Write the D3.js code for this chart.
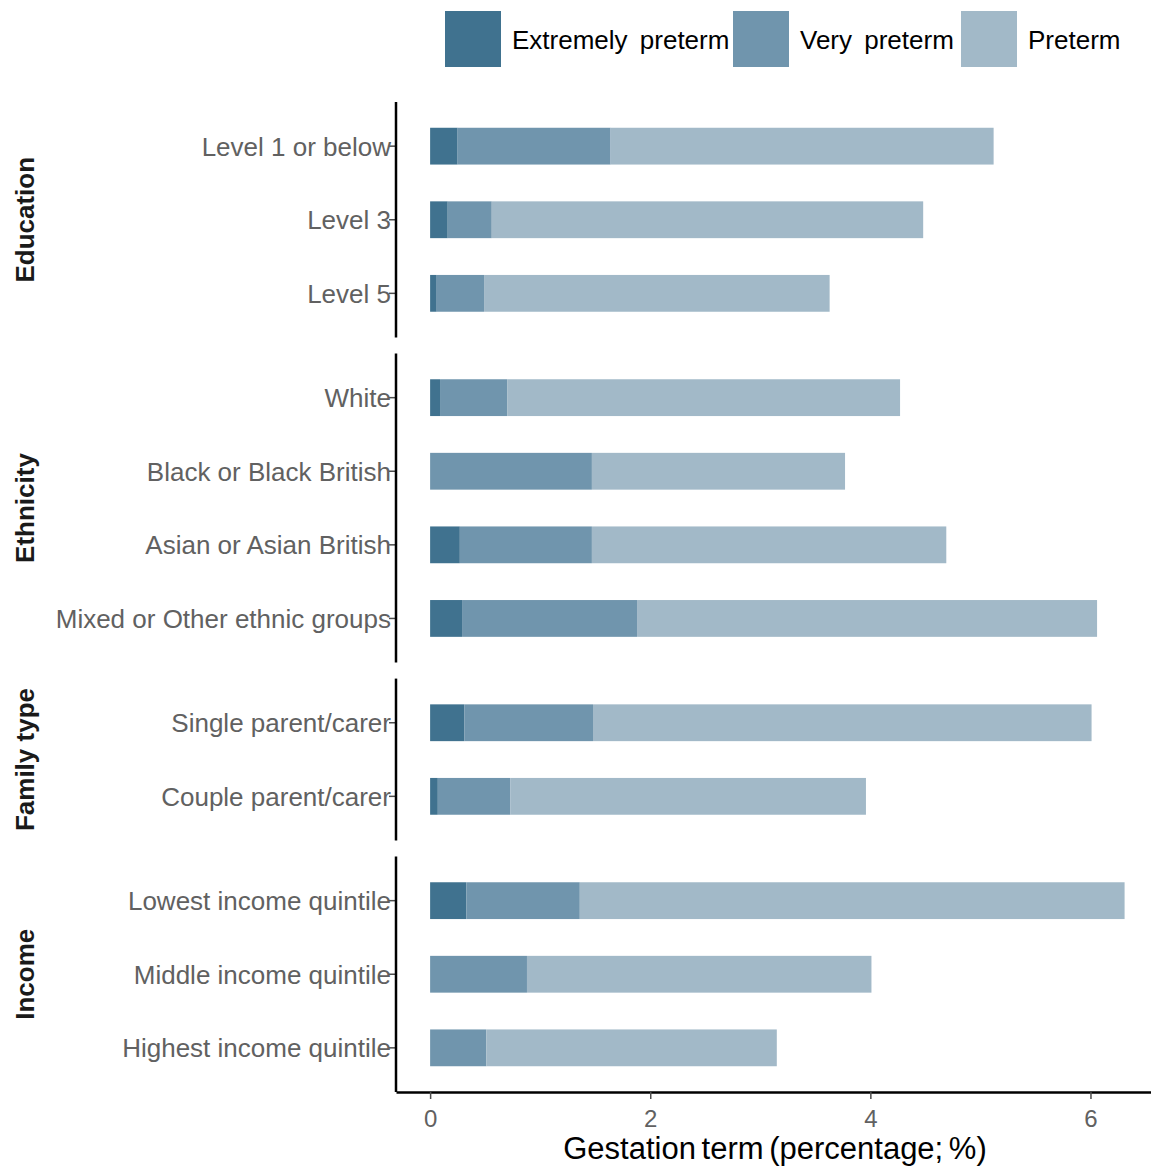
<!DOCTYPE html>
<html><head><meta charset="utf-8">
<script src="https://cdn.jsdelivr.net/npm/d3@7"></script>
<style>body{margin:0;background:#fff}svg text{font-family:"Liberation Sans",Arial,sans-serif}</style>
</head><body><svg id="c" width="1151" height="1166"></svg>
<script>
const groups = ["Education","Ethnicity","Family type","Income"];
const categories = [
  ["Level 1 or below","Level 3","Level 5"],
  ["White","Black or Black British","Asian or Asian British","Mixed or Other ethnic groups"],
  ["Single parent/carer","Couple parent/carer"],
  ["Lowest income quintile","Middle income quintile","Highest income quintile"]
];
const seriesNames = ["Extremely preterm","Very preterm","Preterm"];
const extremely = [[0.25,0.16,0.06],[0.09,0,0.27,0.29],[0.31,0.07],[0.33,0,0]];
const very      = [[1.39,0.40,0.43],[0.61,1.47,1.20,1.59],[1.17,0.66],[1.03,0.88,0.51]];
const preterm   = [[3.48,3.92,3.14],[3.57,2.30,3.22,4.18],[4.53,3.23],[4.95,3.13,2.64]];
const xTicks = [0,2,4,6];
const colors = ["#40728f","#7095ad","#a2b9c8"];
const xTitle = "Gestation term (percentage; %)";

const svg = d3.select("#c");
const pLeft = 396, pRight = 1151, pTop = 102, pBottom = 1092, gap = 16;
const x = d3.scaleLinear().domain([-0.31, 6.55]).range([pLeft, pRight]);

const units = categories.map(c => c.length + 0.2);
const totalUnits = d3.sum(units);
const unitPx = (pBottom - pTop - gap*(groups.length-1)) / totalUnits;

let y0 = pTop;
groups.forEach((g, gi) => {
  const h = units[gi]*unitPx;
  const yb = d3.scaleBand().domain(categories[gi]).range([y0 + 0.1*unitPx, y0 + h - 0.1*unitPx]).paddingInner(0.5).paddingOuter(0.25);
  const panel = svg.append("g");
  categories[gi].forEach((cat, ci) => {
    const vals = [extremely[gi][ci], very[gi][ci], preterm[gi][ci]];
    let cum = 0;
    vals.forEach((v, si) => {
      if (v > 0) {
        panel.append("rect").attr("x", x(cum)).attr("width", x(cum+v)-x(cum))
          .attr("y", yb(cat)).attr("height", yb.bandwidth()).attr("fill", colors[si]);
      }
      cum += v;
    });
  });
  const ax = svg.append("g").attr("transform", `translate(${pLeft},0)`)
    .call(d3.axisLeft(yb).tickSize(7).tickPadding(2).tickSizeOuter(0));
  ax.select(".domain").remove();
  ax.selectAll(".tick line").attr("stroke","#4d4d4d").attr("stroke-width",1.5);
  ax.selectAll(".tick text").attr("fill","#616161").attr("font-size",26).attr("dy","0.36em").attr("x",-5);
  svg.append("line").attr("x1",pLeft).attr("x2",pLeft).attr("y1",y0).attr("y2",y0+h)
    .attr("stroke","#000").attr("stroke-width",2.5);
  svg.append("text").attr("transform",`translate(34,${y0+h/2}) rotate(-90)`)
    .attr("text-anchor","middle").attr("font-size",26).attr("font-weight","bold").attr("fill","#1a1a1a").text(g);
  y0 += h + gap;
});

const xa = svg.append("g").attr("transform",`translate(0,${pBottom})`)
  .call(d3.axisBottom(x).tickValues(xTicks).tickFormat(d3.format("d")).tickSize(7).tickPadding(11).tickSizeOuter(0));
xa.select(".domain").attr("stroke","#000").attr("stroke-width",2.5);
xa.selectAll(".tick line").attr("stroke","#4d4d4d").attr("stroke-width",1.5);
xa.selectAll(".tick text").attr("fill","#616161").attr("font-size",24);
svg.append("text").attr("x",775).attr("y",1159).attr("text-anchor","middle")
  .attr("font-size",31).attr("word-spacing",-3).attr("fill","#000").text(xTitle);

const legX = [445, 733, 961];
seriesNames.forEach((s, i) => {
  svg.append("rect").attr("x",legX[i]).attr("y",11).attr("width",56).attr("height",56).attr("fill",colors[i]);
  svg.append("text").attr("x",legX[i]+67).attr("y",40).attr("dy","0.36em").attr("font-size",26)
    .attr("word-spacing",5).attr("fill","#000").text(s);
});
</script></body></html>
